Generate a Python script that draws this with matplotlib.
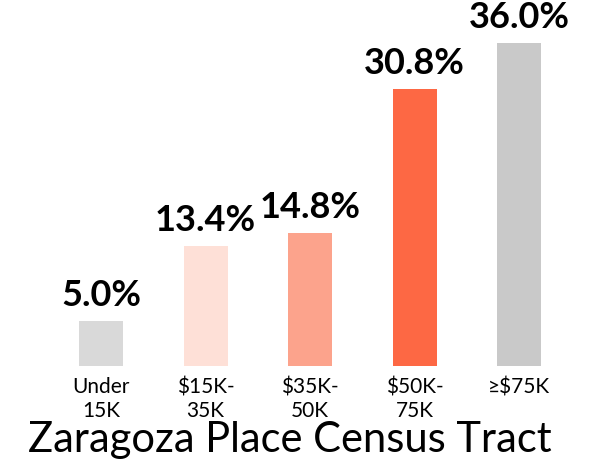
import matplotlib
matplotlib.use("Agg")
from matplotlib import pyplot as plt
import numpy as np

# income brackets and share of households
categories = ["Under\n15K", "$15K-\n35K", "$35K-\n50K", "$50K-\n75K", "\u2265$75K"]
values = [5.0, 13.4, 14.8, 30.8, 36.0]
colors = ["#d9d9d9", "#fee0d7", "#fca38c", "#fd6844", "#c9c9c9"]
title = "Zaragoza Place Census Tract"

plt.rcParams['font.family'] = ['Lato', 'DejaVu Sans']

fig = plt.figure(figsize=(6.11, 4.62), dpi=100)
ax = fig.add_axes([0.080, 0.208, 0.855, 0.777])

x = np.arange(len(values))
ax.bar(x, values, width=0.42, color=colors)

for xi, v in zip(x, values):
    ax.annotate(f"{v:.1f}%", (xi, v), xytext=(0, 6.5), textcoords="offset points",
                ha="center", va="bottom", fontsize=26, fontweight="bold",
                annotation_clip=False)

ax.set_xlim(-0.5, len(values) - 0.5)
ax.set_ylim(0, 40)
ax.set_xticks(x)
ax.set_xticklabels(categories, fontsize=15, linespacing=1.25)
ax.tick_params(axis="x", length=0, pad=8)
ax.set_yticks([])
for s in ax.spines.values():
    s.set_visible(False)

fig.text(0.475, 0.022, title, ha="center", va="baseline", fontsize=30)

fig.savefig("out.png", dpi=100)
